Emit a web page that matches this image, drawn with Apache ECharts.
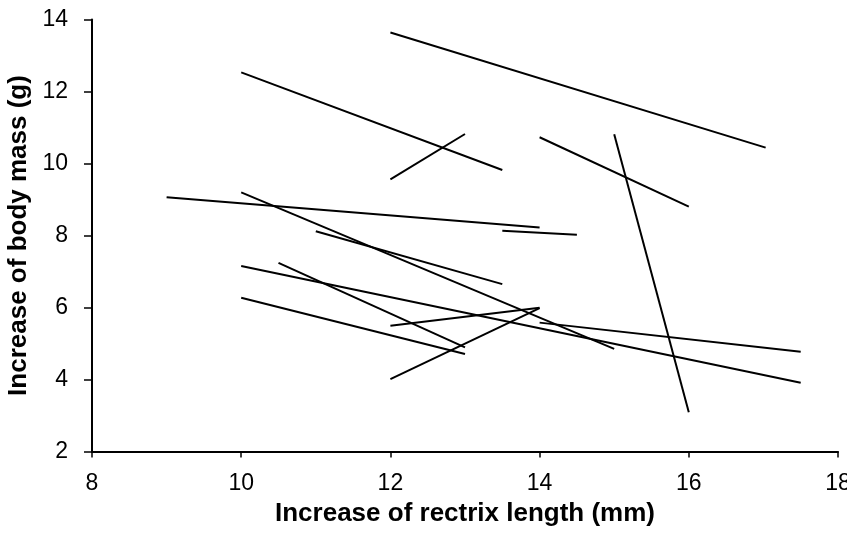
<!DOCTYPE html>
<html>
<head>
<meta charset="utf-8">
<script src="https://cdn.jsdelivr.net/npm/echarts@6/dist/echarts.min.js"></script>
<style>
html,body{margin:0;padding:0;background:#fff;}
#chart{width:847px;height:534px;}
</style>
</head>
<body>
<div id="chart"></div>
<script>
// Each segment: start (xStart, yStart) -> end (xEnd, yEnd)
var xStart = [12, 10, 12, 14, 15, 9, 13.5, 10, 11, 10, 10.5, 10, 12, 12, 14];
var yStart = [13.64, 12.53, 9.56, 10.73, 10.81, 9.06, 8.13, 9.2, 8.12, 7.15, 7.24, 6.27, 5.49, 4.01, 5.58];
var xEnd   = [17.03, 13.5, 13, 16, 16, 14, 14.5, 15, 13.5, 17.5, 13, 13, 14, 14, 17.5];
var yEnd   = [10.44, 9.82, 10.82, 8.8, 3.09, 8.22, 8.02, 4.85, 6.65, 3.91, 4.89, 4.71, 5.99, 5.98, 4.77];

var xTicks = [8, 10, 12, 14, 16, 18];
var yTicks = [2, 4, 6, 8, 10, 12, 14];

var series = xStart.map(function (x0, i) {
  return {
    type: 'line',
    data: [[x0, yStart[i]], [xEnd[i], yEnd[i]]],
    symbol: 'none',
    lineStyle: { color: '#000', width: 2 },
    silent: true,
    animation: false
  };
});

var font = 'Liberation Sans, Arial, sans-serif';
var chart = echarts.init(document.getElementById('chart'), null, { renderer: 'canvas' });
chart.setOption({
  backgroundColor: '#fff',
  animation: false,
  grid: { left: 92, right: 9, top: 19.5, bottom: 82.5, containLabel: false, outerBoundsMode: 'none' },
  xAxis: {
    type: 'value',
    min: xTicks[0], max: xTicks[xTicks.length - 1], interval: 2,
    name: 'Increase of rectrix length (mm)',
    nameLocation: 'middle',
    nameGap: 48,
    nameTextStyle: { fontFamily: font, fontWeight: 'bold', fontSize: 26, color: '#000' },
    axisLine: { lineStyle: { color: '#000', width: 2 } },
    axisTick: { show: true, length: 6, lineStyle: { color: '#000', width: 1.5 } },
    axisLabel: { fontFamily: font, fontSize: 23, color: '#000', margin: 21 },
    splitLine: { show: false }
  },
  yAxis: {
    type: 'value',
    min: yTicks[0], max: yTicks[yTicks.length - 1], interval: 2,
    name: 'Increase of body mass (g)',
    nameLocation: 'middle',
    nameGap: 56,
    nameTextStyle: { fontFamily: font, fontWeight: 'bold', fontSize: 26, color: '#000' },
    axisLine: { show: true, lineStyle: { color: '#000', width: 2 } },
    axisTick: { show: true, length: 8, lineStyle: { color: '#000', width: 1.5 } },
    axisLabel: { fontFamily: font, fontSize: 23, color: '#000', margin: 24 },
    splitLine: { show: false }
  },
  series: series
});
</script>
</body>
</html>
